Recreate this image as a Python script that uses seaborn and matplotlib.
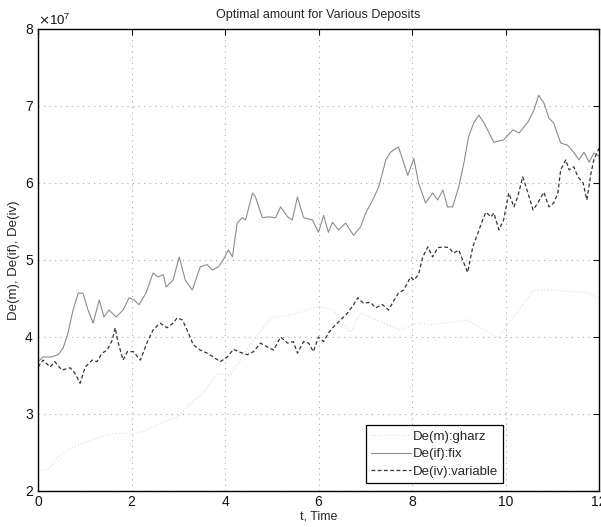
import numpy as np
import pandas as pd
import matplotlib
matplotlib.use("Agg")
import matplotlib.pyplot as plt
from matplotlib.ticker import ScalarFormatter
import seaborn as sns

# values are in units of 1e7
gharz_t = [0.0, 0.11, 0.26, 0.41, 0.75, 1.05, 1.33, 1.61, 2.04, 2.25, 2.61, 2.98,
           3.26, 3.54, 3.83, 4.11, 4.6, 5.0, 5.5, 6.0, 6.32, 6.68, 6.9, 7.75, 8.12,
           8.4, 9.19, 9.83, 10.6, 11.04, 11.76, 12.0]
gharz_v = [2.25, 2.27, 2.30, 2.44, 2.57, 2.64, 2.70, 2.75, 2.75, 2.77, 2.88, 2.96,
           3.14, 3.27, 3.53, 3.50, 3.95, 4.25, 4.30, 4.40, 4.35, 4.06, 4.31, 4.09, 4.18,
           4.16, 4.22, 3.99, 4.61, 4.61, 4.57, 4.50]

fix_t = [0.0, 0.11, 0.28, 0.43, 0.54, 0.64, 0.75, 0.86, 0.96, 1.07, 1.18, 1.31,
         1.41, 1.52, 1.67, 1.82, 1.95, 2.06, 2.16, 2.31, 2.46, 2.57, 2.68, 2.74,
         2.89, 3.02, 3.15, 3.30, 3.47, 3.62, 3.73, 3.86, 3.96, 4.07, 4.16, 4.26,
         4.37, 4.44, 4.59, 4.65, 4.80, 4.93, 5.08, 5.19, 5.34, 5.44, 5.55, 5.68,
         5.87, 6.00, 6.11, 6.21, 6.30, 6.43, 6.58, 6.75, 6.90, 7.01, 7.16, 7.29,
         7.44, 7.54, 7.71, 7.91, 8.04, 8.14, 8.29, 8.44, 8.55, 8.66, 8.76, 8.87,
         9.00, 9.11, 9.21, 9.32, 9.43, 9.54, 9.75, 9.96, 10.16, 10.29, 10.48,
         10.61, 10.71, 10.82, 10.93, 11.03, 11.18, 11.33, 11.46, 11.57, 11.68,
         11.79, 11.89, 12.0]
fix_v = [3.68, 3.74, 3.74, 3.77, 3.86, 4.05, 4.35, 4.57, 4.57, 4.35, 4.18, 4.48,
         4.26, 4.35, 4.26, 4.35, 4.51, 4.48, 4.42, 4.57, 4.83, 4.78, 4.81, 4.65,
         4.74, 5.04, 4.74, 4.61, 4.91, 4.94, 4.87, 4.91, 5.00, 5.13, 5.04, 5.48,
         5.55, 5.52, 5.87, 5.82, 5.55, 5.56, 5.55, 5.69, 5.56, 5.52, 5.82, 5.55,
         5.52, 5.36, 5.58, 5.36, 5.49, 5.39, 5.48, 5.32, 5.43, 5.61, 5.78, 5.95,
         6.30, 6.40, 6.47, 6.10, 6.32, 6.00, 5.74, 5.87, 5.78, 5.91, 5.69, 5.69,
         5.95, 6.26, 6.60, 6.78, 6.88, 6.78, 6.53, 6.56, 6.69, 6.65, 6.79,
         6.95, 7.14, 7.04, 6.84, 6.78, 6.52, 6.49, 6.40, 6.30, 6.40,
         6.27, 6.39, 6.35]

var_t = [0.0, 0.11, 0.26, 0.36, 0.51, 0.69, 0.79, 0.90, 1.01, 1.16, 1.26, 1.37,
         1.48, 1.59, 1.65, 1.71, 1.82, 1.91, 2.04, 2.19, 2.34, 2.46, 2.61, 2.76,
         2.89, 2.98, 3.09, 3.19, 3.32, 3.47, 3.62, 3.75, 3.90, 4.05, 4.18, 4.33,
         4.48, 4.61, 4.76, 4.91, 5.04, 5.19, 5.34, 5.46, 5.55, 5.68, 5.79, 5.89,
         6.00, 6.11, 6.21, 6.32, 6.47, 6.62, 6.75, 6.84, 6.96, 7.11, 7.22, 7.37,
         7.50, 7.59, 7.71, 7.82, 7.91, 7.97, 8.04, 8.14, 8.23, 8.34, 8.44, 8.55,
         8.68, 8.79, 8.89, 9.00, 9.11, 9.19, 9.30, 9.41, 9.51, 9.58, 9.69, 9.75,
         9.86, 9.96, 10.07, 10.18, 10.26, 10.37, 10.48, 10.59, 10.69, 10.82,
         10.93, 11.03, 11.12, 11.18, 11.29, 11.36, 11.46, 11.55, 11.66, 11.74,
         11.83, 11.89, 12.0]
var_v = [3.61, 3.70, 3.61, 3.68, 3.57, 3.60, 3.53, 3.40, 3.61, 3.70, 3.68, 3.79,
         3.83, 3.96, 4.12, 3.94, 3.70, 3.81, 3.81, 3.70, 3.94, 4.09, 4.18, 4.12,
         4.18, 4.25, 4.22, 4.09, 3.90, 3.83, 3.79, 3.74, 3.68, 3.74, 3.84, 3.80,
         3.77, 3.81, 3.92, 3.87, 3.83, 4.00, 3.92, 3.94, 3.79, 3.94, 3.92, 3.81,
         4.00, 3.94, 4.05, 4.13, 4.22, 4.31, 4.42, 4.51, 4.44, 4.45, 4.38, 4.42,
         4.35, 4.45, 4.57, 4.61, 4.71, 4.78, 4.74, 4.81, 5.04, 5.17, 5.04, 5.16,
         5.17, 5.16, 5.09, 5.13, 4.96, 4.84, 5.17, 5.35, 5.52, 5.62, 5.56, 5.61,
         5.39, 5.52, 5.87, 5.69, 5.82, 6.08, 5.87, 5.65, 5.74, 5.88,
         5.69, 5.74, 5.87, 6.17, 6.30, 6.17, 6.21, 6.08, 6.00, 5.78,
         6.13, 6.30, 6.45]

x_ticks = [0, 2, 4, 6, 8, 10, 12]
y_ticks = [2, 3, 4, 5, 6, 7, 8]

sns.set_style("white")
plt.rcParams['font.family'] = ['Liberation Sans', 'DejaVu Sans']

fig = plt.figure(figsize=(6.01, 5.27), dpi=100)
ax = fig.add_axes([38 / 601, 1 - 491 / 527, 561 / 601, 462 / 527])

scale = 1e7
sns.lineplot(x=gharz_t, y=np.array(gharz_v) * scale, ax=ax, color='#e2e2e2',
             linewidth=0.9, linestyle=':', label='De(m):gharz')
sns.lineplot(x=fix_t, y=np.array(fix_v) * scale, ax=ax, color='#8c8c8c',
             linewidth=0.8, label='De(if):fix')
sns.lineplot(x=var_t, y=np.array(var_v) * scale, ax=ax, color='#333333',
             linewidth=0.9, linestyle=(0, (3, 2)), label='De(iv):variable')

ax.set_xlim(0, 12)
ax.set_ylim(2 * scale, 8 * scale)
ax.set_xticks(x_ticks)
ax.set_yticks([v * scale for v in y_ticks])
fmt = ScalarFormatter(useMathText=True)
fmt.set_powerlimits((0, 0))
ax.yaxis.set_major_formatter(fmt)
ax.yaxis.get_offset_text().set_fontsize(9.5)

ax.grid(True, linestyle=(0, (1, 4)), color='#a8a8a8', linewidth=0.8)
ax.tick_params(direction='in', length=4, width=0.8, labelsize=10, colors='#111111',
               top=True, right=True, pad=3)
for s in ax.spines.values():
    s.set_color('black')
    s.set_linewidth(1.0)

ax.set_title('Optimal amount for Various Deposits', fontsize=9, pad=8)
ax.set_xlabel('t, Time', fontsize=9, labelpad=1)
ax.set_ylabel('De(m), De(if), De(iv)', fontsize=9.5, labelpad=3)

leg = ax.legend(loc='lower right', bbox_to_anchor=(0.829, 0.017), fontsize=9.5,
                frameon=True, fancybox=False, handlelength=3.0, borderpad=0.4,
                labelspacing=0.4, handletextpad=0.15, borderaxespad=0)
leg.get_frame().set_edgecolor('black')
leg.get_frame().set_linewidth(0.9)
leg.get_frame().set_alpha(1)

fig.savefig('out.png', dpi=100)
